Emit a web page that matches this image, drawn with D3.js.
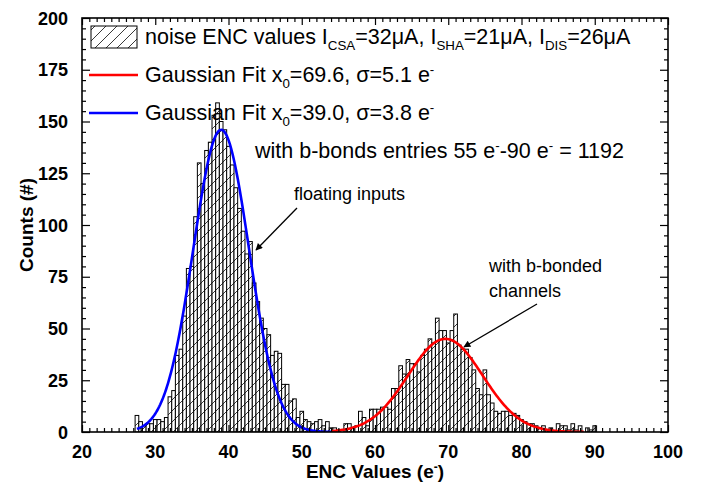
<!DOCTYPE html>
<html>
<head>
<meta charset="utf-8">
<script src="https://cdn.jsdelivr.net/npm/d3@7"></script>
<style>
  html, body { margin: 0; padding: 0; background: #fff; }
  svg { display: block; }
  text { font-family: "Liberation Sans", Arial, sans-serif; fill: #000; }
</style>
</head>
<body>
<svg id="chart" width="704" height="485"></svg>
<script>
// Histogram of ENC values: bins 0.5 e- wide, first bin starts at 27.25 e-
const binStart = 27.25;
const binWidth = 0.5;
const counts = [
  8, 5, 3, 4, 4, 6, 6, 5, 7, 17,
  20, 37, 40, 56, 79, 80, 104, 130, 120, 136,
  140, 153, 159, 150, 146, 138, 129, 118, 108, 97,
  86, 92, 72, 63, 55, 50, 47, 37, 39, 38,
  23, 23, 15, 16, 7, 10, 6, 5, 4, 5,
  6, 3, 5, 2, 2, 1, 0, 4, 4, 2,
  3, 10, 7, 3, 11, 11, 11, 12, 12, 11,
  21, 21, 32, 28, 35, 33, 33, 29, 37, 40,
  45, 43, 55, 49, 49, 43, 49, 57, 42, 40,
  40, 36, 30, 21, 18, 30, 18, 14, 10, 9,
  10, 10, 8, 9, 8, 6, 5, 4, 4, 3,
  2, 3, 1, 2, 0, 4, 3, 3, 1, 4,
  1, 3, 0, 2, 1, 3
];

// Gaussian fits: amplitude, centre, width and the x range the curve is drawn over
const fitFloating = { amp: 146, x0: 39.0, sigma: 3.8, from: 27.5, to: 54.0, color: "#0000ff" };
const fitBonded   = { amp: 45,  x0: 69.6, sigma: 5.1, from: 54.0, to: 88.5, color: "#ff0000" };

const xDomain = [20, 100];
const yDomain = [0, 200];
const xMajorTicks = [20, 30, 40, 50, 60, 70, 80, 90, 100];
const yMajorTicks = [0, 25, 50, 75, 100, 125, 150, 175, 200];

const svg = d3.select("#chart");
const margin = { left: 82, right: 704 - 668, top: 18, bottom: 485 - 432 };
const W = 704 - margin.left - margin.right;
const H = 485 - margin.top - margin.bottom;

const x = d3.scaleLinear().domain(xDomain).range([margin.left, margin.left + W]);
const y = d3.scaleLinear().domain(yDomain).range([margin.top + H, margin.top]);

// hatch pattern for the histogram bars
const defs = svg.append("defs");
const pat = defs.append("pattern")
  .attr("id", "hatch").attr("patternUnits", "userSpaceOnUse")
  .attr("width", 11).attr("height", 11);
pat.append("rect").attr("width", 11).attr("height", 11).attr("fill", "#fff");
pat.append("path").attr("d", "M-1,12 L12,-1 M-6,6 L6,-6 M5,17 L17,5")
  .attr("stroke", "#222").attr("stroke-width", 0.9).attr("fill", "none");

const clip = defs.append("clipPath").attr("id", "plotclip");
clip.append("rect").attr("x", margin.left).attr("y", margin.top).attr("width", W).attr("height", H);

const plot = svg.append("g").attr("clip-path", "url(#plotclip)");

// bars
const bins = counts.map((c, i) => ({ x0: binStart + i * binWidth, x1: binStart + (i + 1) * binWidth, n: c }));
plot.append("g").selectAll("rect").data(bins.filter(b => b.n > 0)).join("rect")
  .attr("x", d => x(d.x0))
  .attr("y", d => y(d.n))
  .attr("width", d => x(d.x1) - x(d.x0))
  .attr("height", d => y(0) - y(d.n))
  .attr("fill", "url(#hatch)")
  .attr("stroke", "#000")
  .attr("stroke-width", 1);

// gaussian fit curves
function gaussPoints(f) {
  const pts = [];
  const steps = 200;
  for (let k = 0; k <= steps; k++) {
    const xv = f.from + (f.to - f.from) * k / steps;
    pts.push([xv, f.amp * Math.exp(-((xv - f.x0) ** 2) / (2 * f.sigma * f.sigma))]);
  }
  return pts;
}
const line = d3.line().x(d => x(d[0])).y(d => y(d[1]));
[fitFloating, fitBonded].forEach(f => {
  plot.append("path").attr("d", line(gaussPoints(f)))
    .attr("fill", "none").attr("stroke", f.color).attr("stroke-width", 2.6);
});

// axes with inward ticks on all four sides
const axes = svg.append("g");
const xMinor = d3.range(xDomain[0], xDomain[1] + 1, 1).filter(v => v % 10 !== 0);
const yMinor = d3.range(yDomain[0], yDomain[1] + 1, 5).filter(v => v % 25 !== 0);

function addAxis(axisGen, transform, major, minor, majorLen, minorLen) {
  const gMinor = axes.append("g").attr("transform", transform)
    .call(axisGen.tickValues(minor).tickSize(minorLen).tickFormat(""));
  gMinor.select(".domain").remove();
  const gMajor = axes.append("g").attr("transform", transform)
    .call(axisGen.tickValues(major).tickSize(majorLen).tickFormat(""));
  gMajor.select(".domain").remove();
  axes.selectAll("line").attr("stroke", "#000").attr("stroke-width", 1.2);
}
addAxis(d3.axisTop(x), `translate(0,${y(0)})`, xMajorTicks, xMinor, 7, 4);
addAxis(d3.axisBottom(x), `translate(0,${y(200)})`, xMajorTicks, xMinor, 7, 4);
addAxis(d3.axisRight(y), `translate(${x(20)},0)`, yMajorTicks, yMinor, 8, 4);
addAxis(d3.axisLeft(y), `translate(${x(100)},0)`, yMajorTicks, yMinor, 8, 4);

// frame
svg.append("rect").attr("x", margin.left).attr("y", margin.top).attr("width", W).attr("height", H)
  .attr("fill", "none").attr("stroke", "#000").attr("stroke-width", 1.6);

// tick labels
svg.append("g").selectAll("text").data(xMajorTicks).join("text")
  .attr("x", d => x(d)).attr("y", 458)
  .attr("text-anchor", "middle").attr("font-size", 18).attr("font-weight", "bold")
  .text(d => d);
svg.append("g").selectAll("text").data(yMajorTicks).join("text")
  .attr("x", 68).attr("y", d => y(d) + 6.5)
  .attr("text-anchor", "end").attr("font-size", 18).attr("font-weight", "bold")
  .text(d => d);

// axis titles
const xt = svg.append("text").attr("x", x(60)).attr("y", 478)
  .attr("text-anchor", "middle").attr("font-size", 19).attr("font-weight", "bold");
xt.append("tspan").text("ENC Values (e");
xt.append("tspan").attr("font-size", 12).attr("dy", -7).text("-");
xt.append("tspan").attr("dy", 7).text(")");

svg.append("text").attr("transform", `translate(33,${y(100)}) rotate(-90)`)
  .attr("text-anchor", "middle").attr("font-size", 19).attr("font-weight", "bold")
  .text("Counts (#)");

// legend
const lg = svg.append("g");
const legFont = 21.5;
lg.append("rect").attr("x", 91).attr("y", 26).attr("width", 46).attr("height", 22)
  .attr("fill", "url(#hatch)").attr("stroke", "#000").attr("stroke-width", 1);

function richText(g, xPos, yPos, parts, size) {
  const t = g.append("text").attr("x", xPos).attr("y", yPos).attr("font-size", size);
  let shift = 0;
  parts.forEach(p => {
    const [str, kind] = Array.isArray(p) ? p : [p, "n"];
    let target = 0;
    if (kind === "sub") target = 6;
    if (kind === "sup") target = -8;
    const ts = t.append("tspan").attr("dy", target - shift).text(str);
    if (kind !== "n") ts.attr("font-size", size * 0.62);
    shift = target;
  });
  return t;
}

richText(lg, 145, 44, ["noise ENC values I", ["CSA", "sub"], "=32\u03bcA, I", ["SHA", "sub"],
  "=21\u03bcA, I", ["DIS", "sub"], "=26\u03bcA"], legFont);

lg.append("line").attr("x1", 89).attr("x2", 138).attr("y1", 75).attr("y2", 75)
  .attr("stroke", fitBonded.color).attr("stroke-width", 2.6);
richText(lg, 145, 82, ["Gaussian Fit x", ["0", "sub"], "=" + fitBonded.x0.toFixed(1) + ", \u03c3=" + fitBonded.sigma.toFixed(1) + " e",
  ["-", "sup"]], legFont);

lg.append("line").attr("x1", 89).attr("x2", 138).attr("y1", 113).attr("y2", 113)
  .attr("stroke", fitFloating.color).attr("stroke-width", 2.6);
richText(lg, 145, 120, ["Gaussian Fit x", ["0", "sub"], "=" + fitFloating.x0.toFixed(1) + ", \u03c3=" + fitFloating.sigma.toFixed(1) + " e",
  ["-", "sup"]], legFont);

richText(lg, 255, 158, ["with b-bonds entries 55 e", ["-", "sup"], "-90 e", ["-", "sup"], " = 1192"], legFont);

// annotations
defs.append("marker").attr("id", "arrow").attr("viewBox", "0 0 10 10")
  .attr("refX", 9).attr("refY", 5).attr("markerWidth", 10).attr("markerHeight", 7)
  .attr("markerUnits", "userSpaceOnUse").attr("orient", "auto")
  .append("path").attr("d", "M0,0 L10,5 L0,10 Z").attr("fill", "#000");

svg.append("text").attr("x", 294).attr("y", 200).attr("font-size", 18).text("floating inputs");
svg.append("line").attr("x1", 297).attr("y1", 208).attr("x2", 256).attr("y2", 250)
  .attr("stroke", "#000").attr("stroke-width", 1.3).attr("marker-end", "url(#arrow)");

svg.append("text").attr("x", 489).attr("y", 272).attr("font-size", 18).text("with b-bonded");
svg.append("text").attr("x", 489).attr("y", 297).attr("font-size", 18).text("channels");
svg.append("line").attr("x1", 537).attr("y1", 304).attr("x2", 464).attr("y2", 347)
  .attr("stroke", "#000").attr("stroke-width", 1.3).attr("marker-end", "url(#arrow)");
</script>
</body>
</html>
